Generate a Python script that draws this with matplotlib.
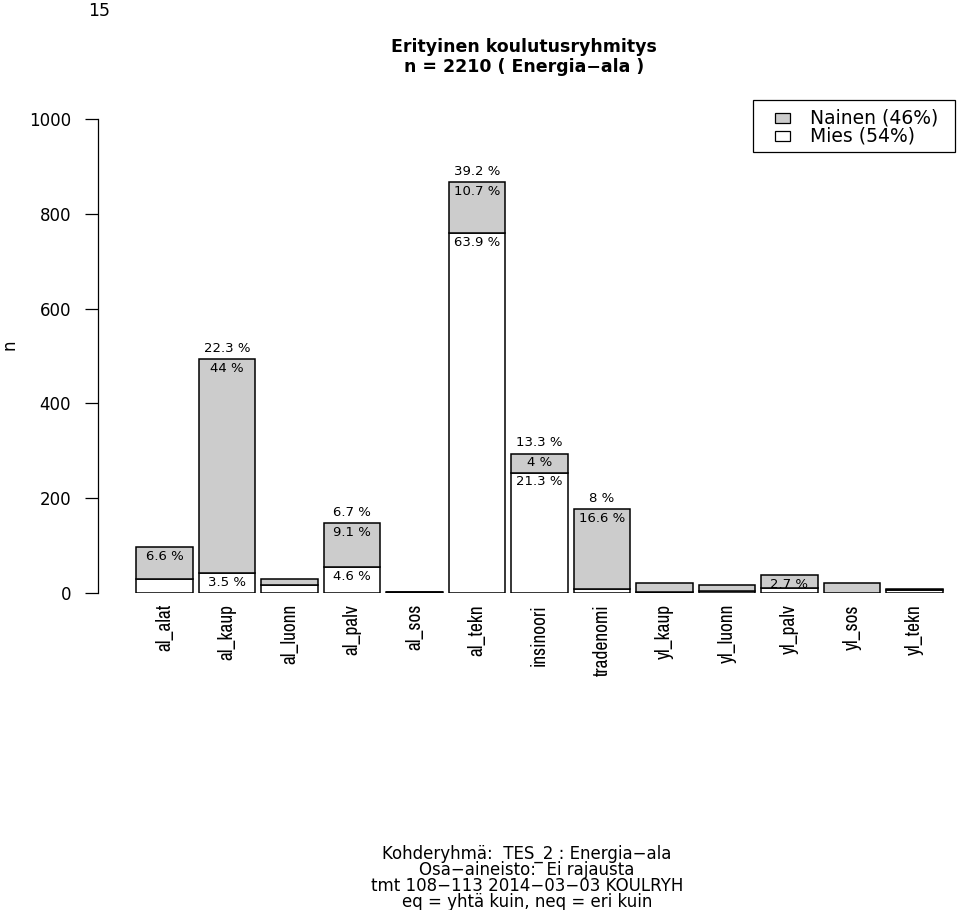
import matplotlib
matplotlib.use("Agg")
import matplotlib.pyplot as plt
from matplotlib import font_manager
from matplotlib.patches import Rectangle

# ryhmät ja lukumäärät (luettu kuvasta)
categories = ["al_alat", "al_kaup", "al_luonn", "al_palv", "al_sos", "al_tekn",
              "insinoori", "tradenomi", "yl_kaup", "yl_luonn", "yl_palv",
              "yl_sos", "yl_tekn"]
mies = [29, 42, 17, 55, 2, 760, 254, 8, 3, 5, 11, 1, 6]
nainen = [68, 451, 12, 93, 1, 107, 40, 169, 18, 12, 27, 20, 2]

# prosenttitekstit (tyhjä = ei näytetä)
mies_pct = ["", "3.5 %", "", "4.6 %", "", "63.9 %", "21.3 %", "", "", "", "", "", ""]
nainen_pct = ["6.6 %", "44 %", "", "9.1 %", "", "10.7 %", "4 %", "16.6 %", "", "", "2.7 %", "", ""]
total_pct = ["", "22.3 %", "", "6.7 %", "", "39.2 %", "13.3 %", "8 %", "", "", "", "", ""]

legend_labels = ["Nainen (46%)", "Mies (54%)"]
yticks = [0, 200, 400, 600, 800, 1000]

plt.rcParams["font.family"] = ["DejaVu Sans"]


def narrow_family():
    # kapea fontti jos sellainen löytyy
    names = sorted({f.name for f in font_manager.fontManager.ttflist})
    for n in names:
        if "Narrow" in n or ("Condensed" in n and "Sans" in n):
            return [n, "Liberation Sans", "DejaVu Sans"], 14
    return ["Liberation Sans", "DejaVu Sans"], 12.3


W, H = 960, 910
fig = plt.figure(figsize=(W / 100, H / 100), dpi=100)

# axes placement in pixels
left_px, right_px, top_px, bottom_px = 98, 955, 100, 593
ax = fig.add_axes([left_px / W, 1 - bottom_px / H,
                   (right_px - left_px) / W, (bottom_px - top_px) / H])

pitch = 62.5
x0 = 164.5
ax.set_xlim((left_px - x0) / pitch, (right_px - x0) / pitch)
ax.set_ylim(0, (bottom_px - top_px) / 0.474)

xs = list(range(len(categories)))
gray = "#CCCCCC"
ax.bar(xs, mies, width=0.91, color="white", edgecolor="black", linewidth=1.1)
ax.bar(xs, nainen, bottom=mies, width=0.91, color=gray, edgecolor="black", linewidth=1.1)

lab_fs = 9.5
for i in xs:
    top = mies[i] + nainen[i]
    if mies_pct[i]:
        ax.annotate(mies_pct[i], (i, mies[i]), xytext=(0, -2), textcoords="offset points",
                    ha="center", va="top", fontsize=lab_fs)
    if nainen_pct[i]:
        ax.annotate(nainen_pct[i], (i, top), xytext=(0, -2), textcoords="offset points",
                    ha="center", va="top", fontsize=lab_fs)
    if total_pct[i]:
        ax.annotate(total_pct[i], (i, top), xytext=(0, 3), textcoords="offset points",
                    ha="center", va="bottom", fontsize=lab_fs)

for s in ["top", "right", "bottom"]:
    ax.spines[s].set_visible(False)
ax.spines["left"].set_bounds(0, 1000)
ax.spines["left"].set_linewidth(0.9)
ax.set_yticks(yticks)
ax.set_yticklabels([str(v) for v in yticks], fontsize=12)
ax.tick_params(axis="y", length=9.5, width=0.9, pad=10)

fam, xfs = narrow_family()
ax.set_xticks(xs)
ax.set_xticklabels(categories, rotation=90, fontsize=xfs, family=fam)
ax.tick_params(axis="x", length=0, pad=8)

fig.text(9 / W, 1 - 345 / H, "n", fontsize=12, rotation=90, ha="center", va="center")


# selite piirretään käsin, jotta mitat osuvat
def px_rect(x, y, w, h, **kw):
    fig.patches.append(Rectangle((x / W, 1 - (y + h) / H), w / W, h / H,
                                 transform=fig.transFigure, **kw))


px_rect(753, 100, 202, 52, facecolor="white", edgecolor="black", linewidth=0.9)
swatch = [gray, "white"]
for k in range(len(legend_labels)):
    yc = 118 + 17.5 * k
    px_rect(775, yc - 5, 15, 10, facecolor=swatch[k], edgecolor="black", linewidth=0.9)
fig.text(810 / W, 1 - 127 / H, "\n".join(legend_labels), fontsize=13.5,
         ha="left", va="center", linespacing=0.92)

fig.text(99 / W, 1 - 11 / H, "15", fontsize=12.5, ha="center", va="center")
fig.text(524 / W, 1 - 57 / H,
         "Erityinen koulutusryhmitys\nn = 2210 ( Energia\u2212ala )",
         fontsize=12.5, fontweight="bold", ha="center", va="center",
         multialignment="center", linespacing=1.08)

footer = ["Kohderyhmä:  TES_2 : Energia\u2212ala",
          "Osa\u2212aineisto:  Ei rajausta",
          "tmt 108\u2212113 2014\u221203\u221203 KOULRYH",
          "eq = yhtä kuin, neq = eri kuin"]
fig.text(527 / W, 1 - 878 / H, "\n".join(footer), fontsize=12,
         ha="center", va="center", multialignment="center", linespacing=0.87)

fig.savefig("out.png", dpi=100)
